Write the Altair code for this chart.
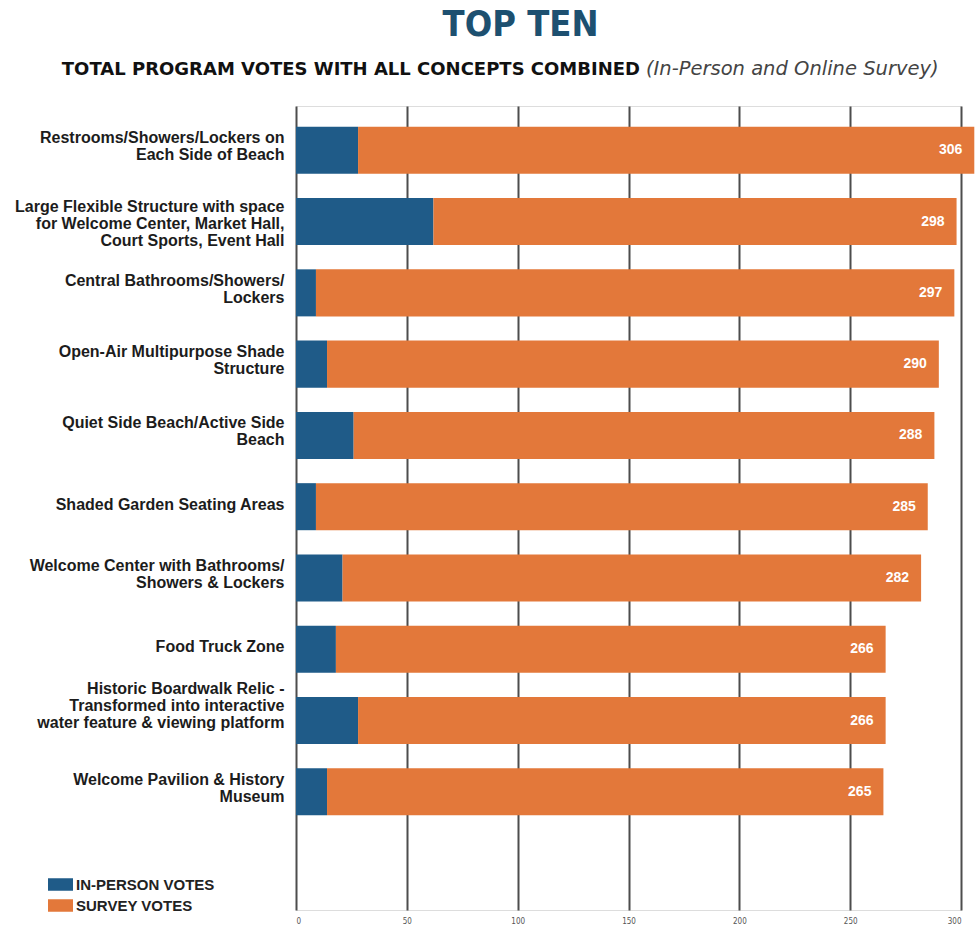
import altair as alt
import pandas as pd

# ---- data ----
categories = [
    "Restrooms/Showers/Lockers on|Each Side of Beach",
    "Large Flexible Structure with space|for Welcome Center, Market Hall,|Court Sports, Event Hall",
    "Central Bathrooms/Showers/|Lockers",
    "Open-Air Multipurpose Shade|Structure",
    "Quiet Side Beach/Active Side|Beach",
    "Shaded Garden Seating Areas",
    "Welcome Center with Bathrooms/|Showers & Lockers",
    "Food Truck Zone",
    "Historic Boardwalk Relic -|Transformed into interactive|water feature & viewing platform",
    "Welcome Pavilion & History|Museum",
]
totals = [306, 298, 297, 290, 288, 285, 282, 266, 266, 265]
in_person = [28, 62, 9, 14, 26, 9, 21, 18, 28, 14]
series = ["IN-PERSON VOTES", "SURVEY VOTES"]
colors = ["#1f5b88", "#e3783a"]
x_ticks = [0, 50, 100, 150, 200, 250, 300]
title_text = "TOP TEN"
subtitle_bold = "TOTAL PROGRAM VOTES WITH ALL CONCEPTS COMBINED"
subtitle_italic = "(In-Person and Online Survey)"

NARROW = "Liberation Sans Narrow, DejaVu Sans Condensed, sans-serif"
SANS = "Liberation Sans, Arial, sans-serif"
WIDE = "DejaVu Sans, sans-serif"

rows = []
for c, t, p in zip(categories, totals, in_person):
    rows.append({"category": c, "series": series[0], "value": p, "order": 0})
    rows.append({"category": c, "series": series[1], "value": t - p, "order": 1})
df = pd.DataFrame(rows)
tot_df = pd.DataFrame({"category": categories, "total": totals})

label_offset = {
    "condition": [
        {"test": "indexof(datum.value, 'Historic') == 0", "value": -32},
        {"test": "length(split(datum.value, '|')) == 3", "value": -15},
        {"test": "length(split(datum.value, '|')) == 2", "value": -12},
    ],
    "value": -2,
}

y_enc = alt.Y(
    "category:N",
    sort=categories,
    scale=alt.Scale(paddingInner=0.34, paddingOuter=0.81, align=0.18),
    axis=alt.Axis(
        title=None,
        labelExpr="split(datum.label, '|')",
        labelFont=SANS,
        labelFontSize=16,
        labelFontWeight="bold",
        labelColor="#1c1c1c",
        labelPadding=12,
        labelLineHeight=17,
        labelLimit=400,
        labelOffset=label_offset,
        ticks=False,
        domain=False,
        grid=False,
    ),
)

x_scale = alt.Scale(domain=[0, 300], nice=False)

bars = alt.Chart(df).mark_bar().encode(
    y=y_enc,
    x=alt.X(
        "value:Q",
        stack="zero",
        scale=x_scale,
        axis=alt.Axis(
            title=None,
            values=x_ticks,
            grid=True,
            gridColor="#4d4d4d",
            gridWidth=2,
            ticks=False,
            domain=False,
            labelFont=NARROW,
            labelFontSize=8,
            labelColor="#555555",
            labelPadding=7,
        ),
    ),
    color=alt.Color(
        "series:N",
        scale=alt.Scale(domain=series, range=colors),
        legend=alt.Legend(
            title=None,
            orient="none",
            legendX=-248,
            legendY=766,
            symbolType="M-1,-0.5H1V0.5H-1Z",
            symbolSize=625,
            symbolStrokeWidth=0,
            symbolOpacity=1,
            rowPadding=-7,
            labelFont=SANS,
            labelFontSize=15,
            labelFontWeight="bold",
            labelColor="#222222",
            labelOffset=3,
        ),
    ),
    order=alt.Order("order:Q"),
)

labels = alt.Chart(tot_df).mark_text(
    align="right", baseline="middle", dx=-12, color="white",
    font=SANS, fontSize=14, fontWeight="bold",
).encode(
    y=alt.Y("category:N", sort=categories),
    x=alt.X("total:Q", scale=x_scale),
    text=alt.Text("total:Q"),
)

sub1 = alt.Chart(pd.DataFrame({"t": [subtitle_bold]})).mark_text(
    align="right", baseline="alphabetic", font=WIDE, fontSize=18,
    fontWeight="bold", color="#111111",
).encode(x=alt.value(344), y=alt.value(-31), text="t:N")

sub2 = alt.Chart(pd.DataFrame({"t": [subtitle_italic]})).mark_text(
    align="left", baseline="alphabetic", font=WIDE, fontSize=19.5,
    fontStyle="italic", fontWeight="normal", color="#444444",
).encode(x=alt.value(350), y=alt.value(-31), text="t:N")

chart = alt.layer(bars, labels, sub1, sub2).properties(
    width=665,
    height=804,
    padding={"left": 296, "top": 106, "right": 17, "bottom": 15},
    autosize=alt.AutoSizeParams(type="none"),
    title=alt.TitleParams(
        text=title_text,
        font=NARROW,
        fontSize=36,
        fontWeight="bold",
        color="#1d5070",
        anchor="middle",
        dx=-108,
        offset=-21,
        baseline="bottom",
    ),
).configure_view(stroke=None).configure(background="white")

chart.save("out.html", embed_options={"renderer": "svg", "actions": False})
